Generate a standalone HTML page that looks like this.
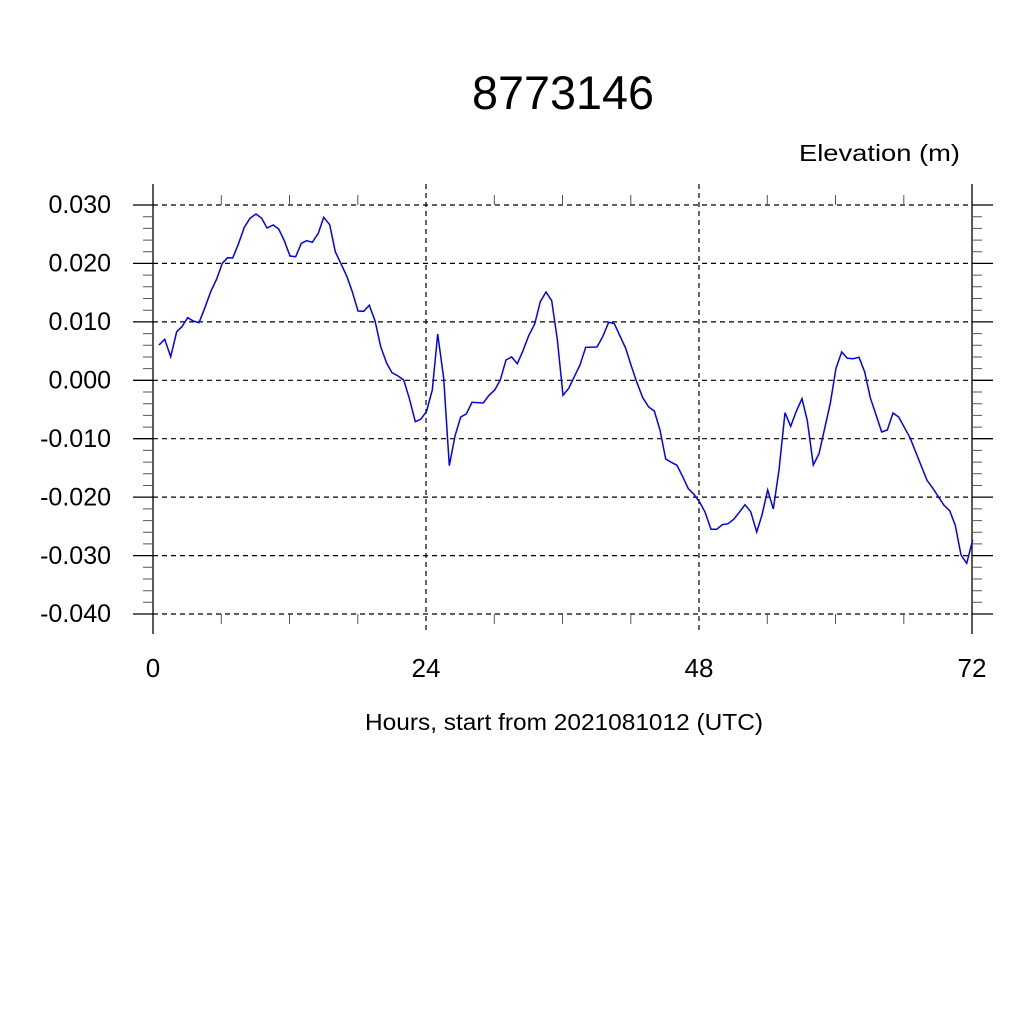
<!DOCTYPE html>
<html><head><style>body{margin:0;background:#fff}svg{display:block}</style></head><body>
<svg width="1024" height="1024" xmlns="http://www.w3.org/2000/svg" font-family="Liberation Sans, sans-serif">
<rect width="1024" height="1024" fill="#fff"/>
<text x="472" y="109" font-size="47" textLength="182" lengthAdjust="spacingAndGlyphs">8773146</text>
<text x="799" y="161" font-size="23" textLength="161" lengthAdjust="spacingAndGlyphs">Elevation (m)</text>
<g stroke="#000" stroke-width="1.2" stroke-dasharray="5,4">
<line x1="153" y1="205" x2="972" y2="205"/><line x1="153" y1="263.4" x2="972" y2="263.4"/><line x1="153" y1="321.9" x2="972" y2="321.9"/><line x1="153" y1="380.3" x2="972" y2="380.3"/><line x1="153" y1="438.7" x2="972" y2="438.7"/><line x1="153" y1="497.1" x2="972" y2="497.1"/><line x1="153" y1="555.6" x2="972" y2="555.6"/><line x1="153" y1="614" x2="972" y2="614"/>
<line x1="426" y1="184" x2="426" y2="634"/><line x1="699" y1="184" x2="699" y2="634"/>
</g>
<g stroke="#000" stroke-width="1.3">
<line x1="153" y1="184" x2="153" y2="634"/><line x1="972" y1="184" x2="972" y2="634"/>
<line x1="133" y1="205" x2="153" y2="205"/><line x1="133" y1="263.4" x2="153" y2="263.4"/><line x1="133" y1="321.9" x2="153" y2="321.9"/><line x1="133" y1="380.3" x2="153" y2="380.3"/><line x1="133" y1="438.7" x2="153" y2="438.7"/><line x1="133" y1="497.1" x2="153" y2="497.1"/><line x1="133" y1="555.6" x2="153" y2="555.6"/><line x1="133" y1="614" x2="153" y2="614"/>
<line x1="972" y1="205" x2="993" y2="205"/><line x1="972" y1="263.4" x2="993" y2="263.4"/><line x1="972" y1="321.9" x2="993" y2="321.9"/><line x1="972" y1="380.3" x2="993" y2="380.3"/><line x1="972" y1="438.7" x2="993" y2="438.7"/><line x1="972" y1="497.1" x2="993" y2="497.1"/><line x1="972" y1="555.6" x2="993" y2="555.6"/><line x1="972" y1="614" x2="993" y2="614"/>
</g>
<g stroke="#555" stroke-width="1">
<path d="M143 216.7H153M143 228.4H153M143 240.1H153M143 251.7H153M143 275.1H153M143 286.8H153M143 298.5H153M143 310.2H153M143 333.6H153M143 345.3H153M143 357H153M143 368.6H153M143 392H153M143 403.7H153M143 415.4H153M143 427.1H153M143 450.4H153M143 462.1H153M143 473.8H153M143 485.5H153M143 508.9H153M143 520.6H153M143 532.2H153M143 543.9H153M143 567.3H153M143 579H153M143 590.7H153M143 602.3H153"/>
<path d="M972 216.7H982M972 228.4H982M972 240.1H982M972 251.7H982M972 275.1H982M972 286.8H982M972 298.5H982M972 310.2H982M972 333.6H982M972 345.3H982M972 357H982M972 368.6H982M972 392H982M972 403.7H982M972 415.4H982M972 427.1H982M972 450.4H982M972 462.1H982M972 473.8H982M972 485.5H982M972 508.9H982M972 520.6H982M972 532.2H982M972 543.9H982M972 567.3H982M972 579H982M972 590.7H982M972 602.3H982"/>
<path d="M221.3 614V624M289.5 614V624M357.8 614V624M494.3 614V624M562.5 614V624M630.8 614V624M767.3 614V624M835.5 614V624M903.8 614V624"/>
<path d="M221.3 195V205M289.5 195V205M357.8 195V205M494.3 195V205M562.5 195V205M630.8 195V205M767.3 195V205M835.5 195V205M903.8 195V205"/>
</g>
<g font-size="25" text-anchor="end">
<text x="111" y="213">0.030</text><text x="111" y="271.5">0.020</text><text x="111" y="330">0.010</text><text x="111" y="388.5">0.000</text><text x="111" y="447">-0.010</text><text x="111" y="505.5">-0.020</text><text x="111" y="564">-0.030</text><text x="111" y="622">-0.040</text>
</g>
<g font-size="26" text-anchor="middle">
<text x="153" y="677">0</text><text x="426" y="677">24</text><text x="699" y="677">48</text><text x="972" y="677">72</text>
</g>
<text x="365" y="730" font-size="23" textLength="398" lengthAdjust="spacingAndGlyphs">Hours, start from 2021081012 (UTC)</text>
<polyline fill="none" stroke="#0000ff" stroke-width="1.5" points="159,345 164.7,339.3 170.7,356.7 176.7,331.7 182,326.7 187.7,317.7 193.3,321 199,322.7 204.3,309.3 210.7,291.7 216.7,279 222.3,263.3 227.7,257.7 232.7,258 238.3,244.3 244.3,227.3 250,218.3 256,214 261.7,218.3 267,228 273.3,225 278.7,229 284.3,240.7 290,256 295.7,256.7 301.3,243.3 306.7,240.7 312.3,242.3 318.3,233.3 323.7,217.3 329.7,224.7 335.3,251.7 341.7,265.3 347,276.7 352.3,291.7 358,311 363.7,311.3 369.3,305.3 375,320.7 380.7,346.7 386.7,363.3 392,372.7 398,376 403.7,380 409.3,398.3 415.3,421.7 420.7,419.3 426.5,411.5 432.3,390 437.7,334 443.7,378.3 449.3,465.7 455,436 460.7,417 466.3,414 472,402.3 483.3,403 489,395.3 494.7,390 500.3,380 506,360 511.7,357 517.3,363.7 523,350.7 528.7,335.7 534.7,324 540.3,301.7 546,292 551.7,300.7 557.3,339.3 563,395.3 568.7,388.3 574.3,376.7 580,365 585.7,347.3 597,347 602.7,336.7 608.7,322.3 614.3,323.7 620,336 625.7,348.3 631.3,366 637,382.7 642.7,397.7 648.7,407 654.3,411 660,430 665.7,459 671.3,462.3 677,465.3 682.7,476.7 688.3,488.7 694,494.3 699.7,502.3 705,512 711,529.3 716.7,529.3 722.3,524.7 728,523.7 733.7,519.3 739.3,512.3 745,504.7 750.7,511.7 756.7,532 762,515 767.7,490 773.3,509 779,470 785,412.7 790.7,426.3 796.3,411.3 802,398.7 807.3,420.7 813.3,465 819,453.7 824.7,428.3 830.3,403.3 836,368.3 841.7,352 847.3,358.3 853.3,358.7 859,357.3 864.7,372 870.3,397.7 876,414.7 881.7,432 887.3,430 893,413 898.7,417 904.3,427.3 910,437.7 915.7,452 921.3,466 927,480.3 932.7,488 938.3,496.7 944,505.3 949.7,510.7 955.3,525.3 961,555 966.7,563.3 972.7,540"/>
</svg>
</body></html>
